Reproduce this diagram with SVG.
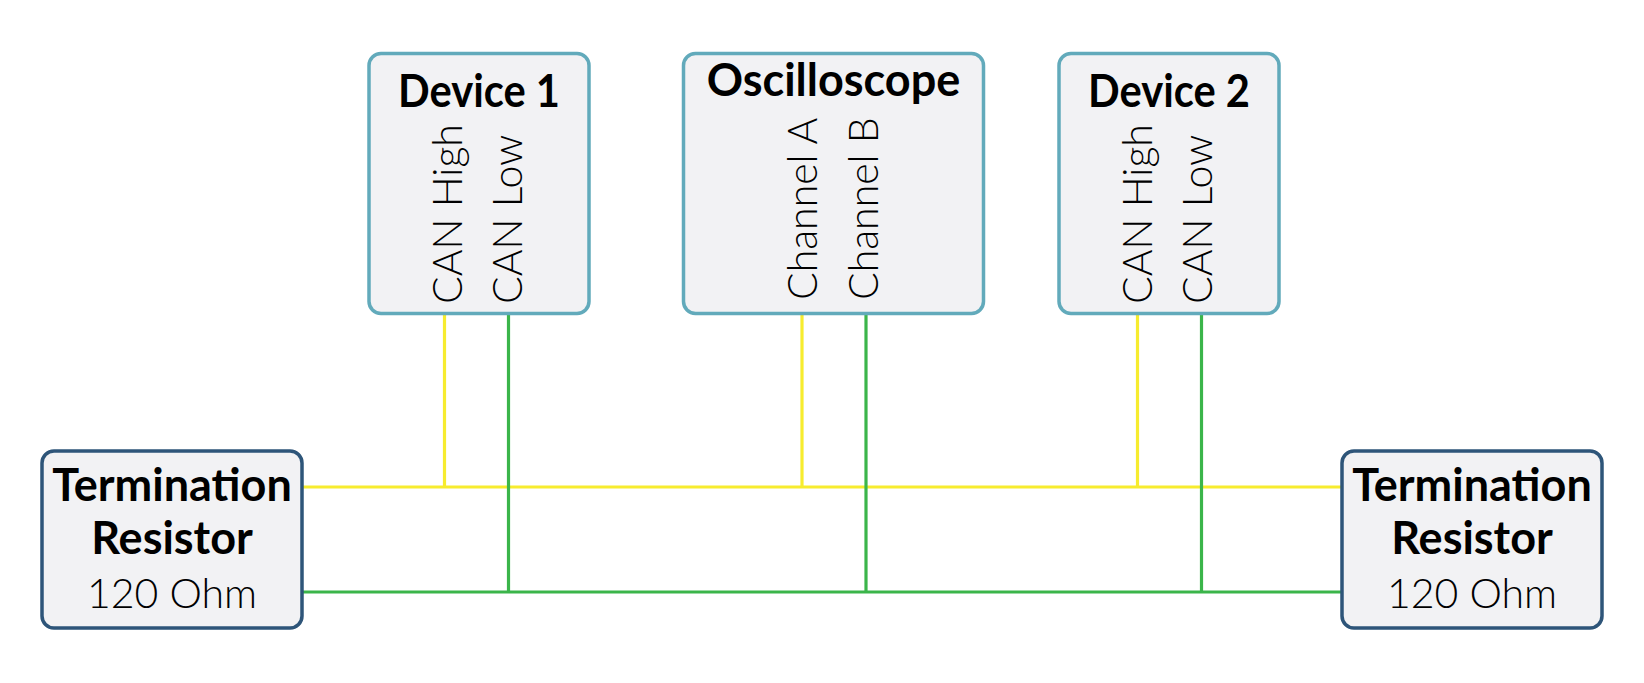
<svg xmlns="http://www.w3.org/2000/svg" width="1644" height="683" viewBox="0 0 1644 683">
<style>
.dev{fill:#f2f2f4;stroke:#62aabb;stroke-width:3.5}
.term{fill:#f2f2f4;stroke:#2e5579;stroke-width:3.5}
.title{font-family:Lato,"Liberation Sans",sans-serif;font-weight:700;font-size:45px;fill:#000;text-anchor:middle}
.lbl{font-family:Lato,"Liberation Sans",sans-serif;font-weight:300;font-size:41px;fill:#000}
.sub{font-family:Lato,"Liberation Sans",sans-serif;font-weight:300;font-size:41px;fill:#000;text-anchor:middle}
.y{stroke:#f7ec2e;stroke-width:3.2;fill:none}
.g{stroke:#3bb54a;stroke-width:3.2;fill:none}
</style>
<rect width="1644" height="683" fill="#fff"/>
<g id="connectors">
<line class="y" x1="302" y1="487" x2="1342" y2="487"/>
<line class="g" x1="302" y1="592" x2="1342" y2="592"/>
<line class="y" x1="444.5" y1="313" x2="444.5" y2="487"/>
<line class="g" x1="508.5" y1="313" x2="508.5" y2="592"/>
<line class="y" x1="802" y1="313" x2="802" y2="487"/>
<line class="g" x1="866" y1="313" x2="866" y2="592"/>
<line class="y" x1="1137.5" y1="313" x2="1137.5" y2="487"/>
<line class="g" x1="1201.5" y1="313" x2="1201.5" y2="592"/>
</g>
<g id="device1">
<rect class="dev" x="369" y="53.5" width="220" height="260" rx="12"/>
<text class="title" x="479" y="107" textLength="162" lengthAdjust="spacingAndGlyphs">Device 1</text>
<text class="lbl" transform="translate(462,304) rotate(-90)">CAN High</text>
<text class="lbl" transform="translate(522,304) rotate(-90)">CAN Low</text>
</g>
<g id="oscilloscope">
<rect class="dev" x="683.5" y="53.5" width="300" height="260" rx="12"/>
<text class="title" x="833.5" y="96">Oscilloscope</text>
<text class="lbl" transform="translate(817,300) rotate(-90)">Channel A</text>
<text class="lbl" transform="translate(878,300) rotate(-90)">Channel B</text>
</g>
<g id="device2">
<rect class="dev" x="1059" y="53.5" width="220" height="260" rx="12"/>
<text class="title" x="1169" y="107" textLength="162" lengthAdjust="spacingAndGlyphs">Device 2</text>
<text class="lbl" transform="translate(1152,304) rotate(-90)">CAN High</text>
<text class="lbl" transform="translate(1212,304) rotate(-90)">CAN Low</text>
</g>
<g id="term-left">
<rect class="term" x="42" y="451" width="260" height="177" rx="12"/>
<text class="title" x="172" y="501">Termination</text>
<text class="title" x="172" y="554">Resistor</text>
<text class="sub" x="172" y="608">120 Ohm</text>
</g>
<g id="term-right">
<rect class="term" x="1342" y="451" width="260" height="177" rx="12"/>
<text class="title" x="1472" y="501">Termination</text>
<text class="title" x="1472" y="554">Resistor</text>
<text class="sub" x="1472" y="608">120 Ohm</text>
</g>
</svg>
